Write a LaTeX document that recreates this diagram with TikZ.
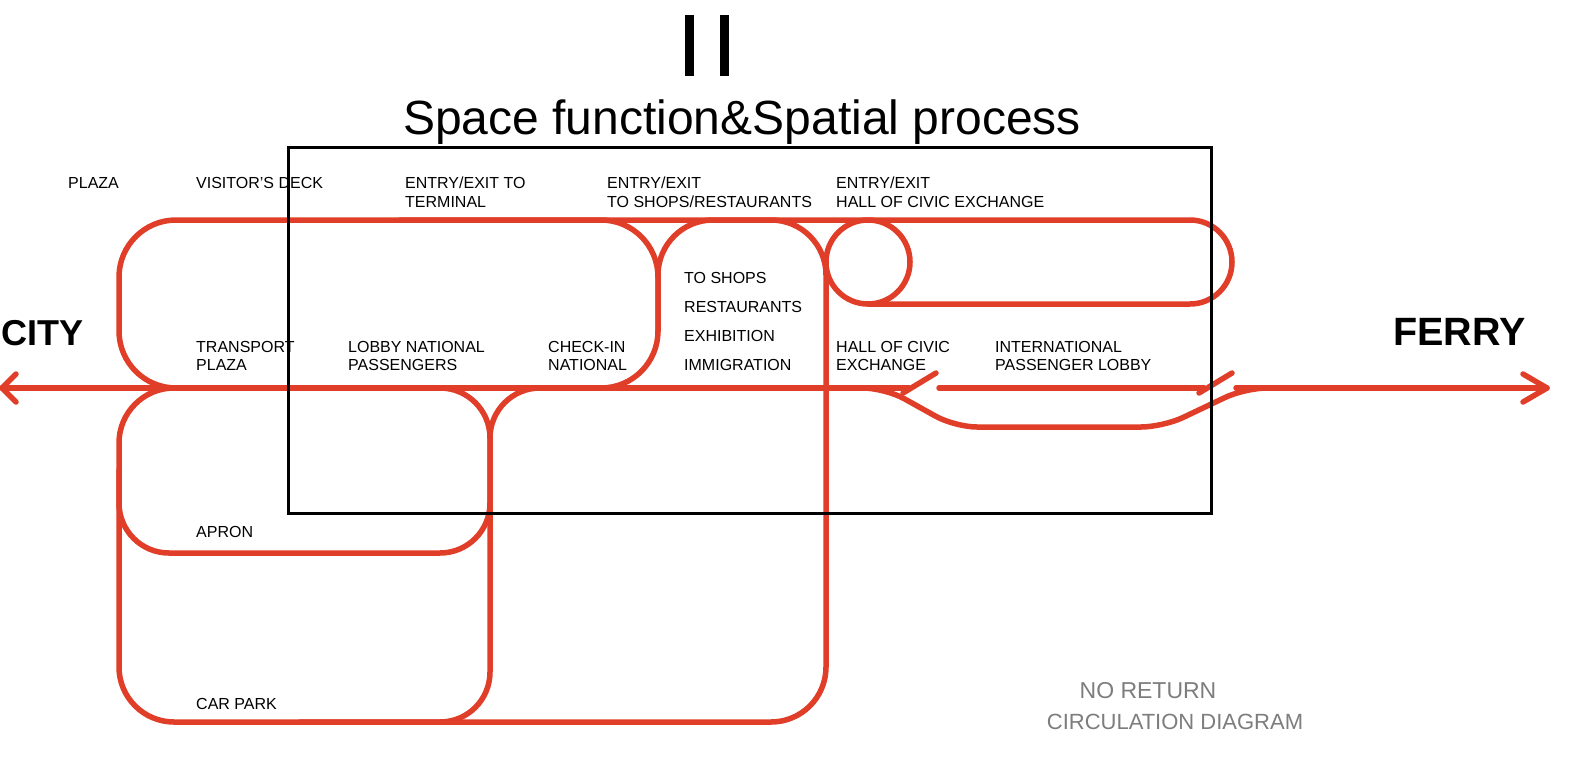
\documentclass[tikz,border=0pt]{standalone}
\usepackage{fontspec}
\setmainfont{Liberation Sans}
\definecolor{flow}{RGB}{224,62,40}
\definecolor{note}{RGB}{125,125,125}
\begin{document}
\begin{tikzpicture}[x=1pt,y=-1pt,
  flowline/.style={draw=flow,line width=5.5pt,line cap=round,line join=round},
  lbl/.style={anchor=base west,inner sep=0pt,font=\fontsize{16}{16}\selectfont},
  big/.style={anchor=base west,inner sep=0pt,font=\fontsize{38}{38}\selectfont\bfseries},
  grey/.style={anchor=base,inner sep=0pt,text=note,font=\fontsize{23}{23}\selectfont},
]
\useasboundingbox (0,0) rectangle (1572,764);
\fill[white] (0,0) rectangle (1572,764);

% --- red circulation network ---
% terminal loop (top left)
\draw[flowline,rounded corners=57pt] (400,220) -- (119,220) -- (119,388) -- (658,388) -- (658,220) -- cycle;
% shops loop + car park outer loop
\draw[flowline,rounded corners=55pt] (658,331) -- (658,220) -- (826,220) -- (826,722) -- (119,722) -- (119,388) -- (400,388);
% apron loop
\draw[flowline,rounded corners=50pt] (119,470) -- (119,553) -- (490,553) -- (490,388) -- (400,388);
% middle vertical
\draw[flowline,rounded corners=50pt] (600,388) -- (490,388) -- (490,722) -- (300,722);
% top line and hall of civic exchange loop
\draw[flowline,rounded corners=42pt] (400,220) -- (1232,220) -- (1232,304) -- (868,304);
\draw[flowline] (868,262) circle[radius=42];
% main line towards city
\draw[flowline] (16,374) -- (2,388) -- (16,402);
\draw[flowline] (2,388) -- (909,388);
% gates
\draw[flowline] (903,393) -- (936,373);
\fill[flow] (907,389) circle[radius=4];
\draw[flowline] (939,388) -- (1204,388);
\draw[flowline] (1199,393) -- (1232,373);
\fill[flow] (1202,389) circle[radius=4];
% lower branch
\draw[flowline,rounded corners=22pt] (860,388) -- (885,388) -- (955,427) -- (1163,427) -- (1245,388) -- (1280,388);
% main line towards ferry
\draw[flowline] (1236,388) -- (1547,388);
\draw[flowline] (1523,374) -- (1547,388) -- (1523,402);

% --- black frame ---
\draw[line width=3pt] (288,147) rectangle (1211,513);

% --- title ---
\fill (685,15) rectangle (694,76);
\fill (720,15) rectangle (729,76);
\node[anchor=base,inner sep=0pt,font=\fontsize{48}{48}\selectfont] (title) at (742,134) {Space function\&Spatial process};

% --- labels ---
\node[lbl] (plaza) at (68,188) {PLAZA};
\node[lbl] (deck) at (196,188) {VISITOR'S DECK};
\node[lbl] (et1) at (405,188) {ENTRY/EXIT TO};
\node[lbl] (et2) at (405,207) {TERMINAL};
\node[lbl] (es1) at (607,188) {ENTRY/EXIT};
\node[lbl] (es2) at (607,207) {TO SHOPS/RESTAURANTS};
\node[lbl] (eh1) at (836,188) {ENTRY/EXIT};
\node[lbl] (eh2) at (836,207) {HALL OF CIVIC EXCHANGE};
\node[lbl] (s1) at (684,283) {TO SHOPS};
\node[lbl] (s2) at (684,312) {RESTAURANTS};
\node[lbl] (s3) at (684,341) {EXHIBITION};
\node[lbl] (s4) at (684,370) {IMMIGRATION};
\node[lbl] (tp1) at (196,352) {TRANSPORT};
\node[lbl] (tp2) at (196,370) {PLAZA};
\node[lbl] (lb1) at (348,352) {LOBBY NATIONAL};
\node[lbl] (lb2) at (348,370) {PASSENGERS};
\node[lbl] (ck1) at (548,352) {CHECK-IN};
\node[lbl] (ck2) at (548,370) {NATIONAL};
\node[lbl] (hc1) at (836,352) {HALL OF CIVIC};
\node[lbl] (hc2) at (836,370) {EXCHANGE};
\node[lbl] (ip1) at (995,352) {INTERNATIONAL};
\node[lbl] (ip2) at (995,370) {PASSENGER LOBBY};
\node[lbl] (apron) at (196,537) {APRON};
\node[lbl] (carpark) at (196,709) {CAR PARK};
\node[big,font=\fontsize{36}{36}\selectfont\bfseries] (city) at (1.5,345) {CITY};
\node[big,font=\fontsize{39.5}{39.5}\selectfont\bfseries] (ferry) at (1393,345) {FERRY};
\node[grey] (nr1) at (1148,698) {NO RETURN};
\node[grey,font=\fontsize{22}{22}\selectfont] (nr2) at (1175,729) {CIRCULATION DIAGRAM};
\end{tikzpicture}
\end{document}
